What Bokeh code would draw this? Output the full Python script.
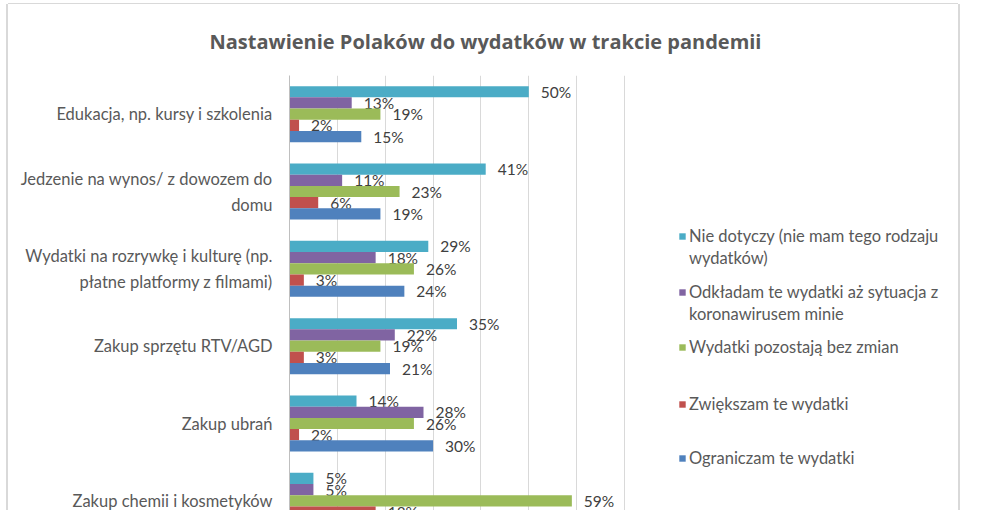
from bokeh.plotting import figure
from bokeh.models import ColumnDataSource, Range1d, FixedTicker, Legend, LegendItem
from bokeh.transform import dodge
from bokeh.core.properties import value
from bokeh.embed import file_html
from bokeh.resources import INLINE

# ---------------- data ----------------
title_text = "Nastawienie Polaków do wydatków w trakcie pandemii"
categories = [
    "Edukacja, np. kursy i szkolenia",
    "Jedzenie na wynos/ z dowozem do\ndomu",
    "Wydatki na rozrywkę i kulturę (np.\npłatne platformy z filmami)",
    "Zakup sprzętu RTV/AGD",
    "Zakup ubrań",
    "Zakup chemii i kosmetyków",
]
# legend labels, one list of lines per series
series_names = [
    ["Nie dotyczy (nie mam tego rodzaju", "wydatków)"],
    ["Odkładam te wydatki aż sytuacja z", "koronawirusem minie"],
    ["Wydatki pozostają bez zmian"],
    ["Zwiększam te wydatki"],
    ["Ograniczam te wydatki"],
]
nie_dotyczy = [50, 41, 29, 35, 14, 5]
odkladam = [13, 11, 18, 22, 28, 5]
bez_zmian = [19, 23, 26, 19, 26, 59]
zwiekszam = [2, 6, 3, 3, 2, 18]
ograniczam = [15, 19, 24, 21, 30, 13]
x_ticks = [0, 10, 20, 30, 40, 50, 60, 70]

colors = ["#4BACC6", "#8064A2", "#9BBB59", "#C0504D", "#4F81BD"]
series = [nie_dotyczy, odkladam, bez_zmian, zwiekszam, ograniczam]

# ---------------- layout ----------------
FONT = "Lato"
n = len(categories)
ypos = [-i for i in range(n)]
BAR_H = 0.145
offsets = [2 * BAR_H, BAR_H, 0.0, -BAR_H, -2 * BAR_H]

W, H = 950, 506
ML, MT, MR = 281, 68, 6
frame_w = W - ML - MR
x_end = 70 * frame_w / 335.0   # 0..70 % occupies 335 px, the rest holds the legend

p = figure(
    width=W, height=H,
    x_range=Range1d(0, x_end), y_range=Range1d(-5.125, 0.5),
    output_backend="svg", toolbar_location=None,
    x_axis_location=None,
    min_border_left=ML, min_border_right=MR,
    min_border_top=MT, min_border_bottom=0,
)
p.styles = {
    "transform": "translate(8px, 4px)",
    "box-shadow": "-2px 0 0 0 #d9d9d9, 2px 0 0 0 #d9d9d9, 0 -1px 0 0 #d9d9d9",
}
p.outline_line_color = None
p.background_fill_color = "white"
p.border_fill_color = "white"

p.title.text = title_text
p.title.text_font = "Open Sans"
p.title.text_font_style = "bold"
p.title.text_font_size = "20px"
p.title.text_color = "#595959"
p.title.align = "left"
p.title.offset = -80
p.title.standoff = 42

p.xgrid.ticker = FixedTicker(ticks=x_ticks)
p.xgrid.grid_line_color = "#d9d9d9"
p.ygrid.grid_line_color = None

p.yaxis.ticker = FixedTicker(ticks=ypos)
p.yaxis.major_label_overrides = {y: c for y, c in zip(ypos, categories)}
p.yaxis.major_tick_line_color = None
p.yaxis.minor_tick_line_color = None
p.yaxis.axis_line_color = "#bfbfbf"
p.yaxis.major_label_standoff = 11
p.yaxis.major_label_text_font = FONT
p.yaxis.major_label_text_font_size = "16.5px"
p.yaxis.major_label_text_color = "#595959"
p.yaxis.major_label_text_line_height = 1.3
p.yaxis.major_label_text_align = "center"

renderers = []
for vals, off, col in zip(series, offsets, colors):
    src = ColumnDataSource(dict(y=ypos, v=vals, lbl=[f"{v}%" for v in vals]))
    r = p.hbar(y=dodge("y", off), left=0, right="v", height=BAR_H,
               fill_color=col, line_color=None, source=src)
    renderers.append(r)
    p.text(x="v", y=dodge("y", off), text="lbl", x_offset=12,
           text_baseline="middle", text_align="left",
           text_font=value(FONT), text_font_size="15.5px",
           text_color="#404040", source=src)

# legend entries, each placed on its own (px from the frame's bottom-left)
ROW = 22
first_line_y = [242, 298, 352.5, 409.5, 464]   # page y of each entry's first line
page_frame_bottom = 518
for r, lines, fy in zip(renderers, series_names, first_line_y):
    items = [LegendItem(label=lines[0], renderers=[r])]
    for extra in lines[1:]:
        items.append(LegendItem(label=extra, renderers=[]))
    bottom = fy + 2 - ROW / 2 + ROW * len(lines)
    lg = Legend(items=items, location=(389, page_frame_bottom - bottom),
                orientation="vertical")
    lg.glyph_width = 8
    lg.glyph_height = 8
    lg.label_standoff = 3
    lg.label_height = ROW
    lg.label_width = 10
    lg.padding = 0
    lg.margin = 0
    lg.spacing = 0
    lg.border_line_color = None
    lg.background_fill_alpha = 0
    lg.label_text_font = FONT
    lg.label_text_font_size = "16.5px"
    lg.label_text_color = "#595959"
    p.add_layout(lg, "center")

open("out.html", "w").write(file_html(p, INLINE))
